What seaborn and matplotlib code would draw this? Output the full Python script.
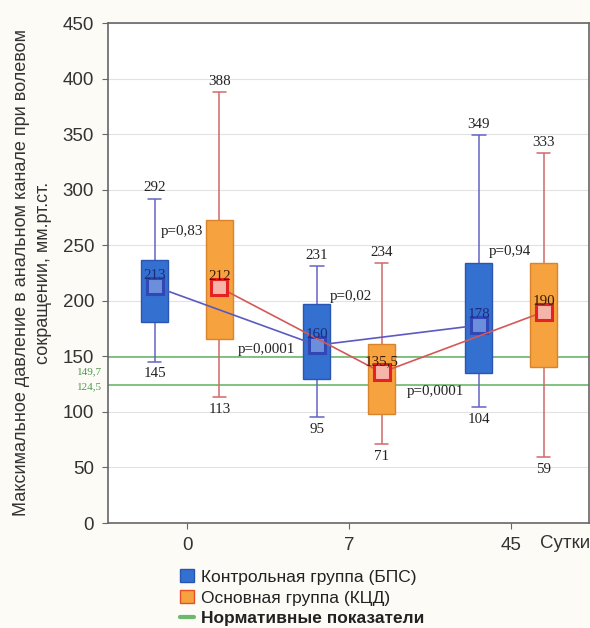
import numpy as np
import pandas as pd
import matplotlib
matplotlib.use("Agg")
import matplotlib.pyplot as plt
import matplotlib.transforms as mtransforms
from matplotlib.patches import Patch
from matplotlib.lines import Line2D
import seaborn as sns

# ---------------- data ----------------
days = ["0", "7", "45"]
groups = ["Контрольная группа (БПС)", "Основная группа (КЦД)"]
norm_name = "Нормативные показатели"

ctrl_min = [145, 95, 104]
ctrl_q1 = [181, 130, 135]
ctrl_med = [213, 160, 178]
ctrl_q3 = [237, 197, 234]
ctrl_max = [292, 231, 349]

main_min = [113, 71, 59]
main_q1 = [166, 98, 140]
main_med = [212, 135.5, 190]
main_q3 = [273, 161, 234]
main_max = [388, 234, 333]

norm_values = [149.7, 124.5]
norm_labels = ["149,7", "124,5"]

p_labels = ["p=0,83", "p=0,0001", "p=0,02", "p=0,0001", "p=0,94"]
y_label = "Максимальное давление в анальном канале при волевом\nсокращении, мм.рт.ст."
x_unit = "Сутки"

# ---------------- layout / style ----------------
p_pos = [(-0.16, 262), (0.315, 155.7), (0.883, 203.4), (1.358, 117.9), (1.864, 244.8)]
norm_label_y = [136.0, 123.0]

box_face = ["#3470cf", "#f6a23e"]
box_edge = ["#2a56b2", "#d9842c"]
whisk_col = ["#6464c4", "#cf6a6a"]
line_col = ["#5a5ac2", "#d45858"]
mk_edge = ["#3147b5", "#e42222"]
mk_face = ["#6c8fdc", "#f7b4a8"]
green = "#6cb86c"
offsets = [-0.2, 0.2]

sns.set_theme(style="white")
plt.rcParams["font.family"] = ["Liberation Sans", "DejaVu Sans"]
SERIF = ["Liberation Serif", "DejaVu Serif"]

fig = plt.figure(figsize=(5.9, 6.28), dpi=100, facecolor="#fcfbf6")
ax = fig.add_axes([108 / 590, 1 - 523 / 628, (589 - 108) / 590, 500 / 628])
ax.set_facecolor("white")

# long table for boxplot: min, q1, med, q3, max -> exact quartiles
rows = []
stats = {
    groups[0]: (ctrl_min, ctrl_q1, ctrl_med, ctrl_q3, ctrl_max),
    groups[1]: (main_min, main_q1, main_med, main_q3, main_max),
}
for g in groups:
    for i, d in enumerate(days):
        for arr in stats[g]:
            rows.append({"day": d, "group": g, "value": arr[i]})
df = pd.DataFrame(rows)

sns.boxplot(data=df, x="day", y="value", hue="group", order=days, hue_order=groups,
            whis=(0, 100), width=0.8, gap=0.58, palette=box_face, saturation=1,
            linewidth=1, showfliers=False, legend=False, ax=ax)

for k, cont in enumerate(ax.containers):
    for b in cont.boxes:
        b.set_facecolor(box_face[k])
        b.set_edgecolor(box_edge[k])
        b.set_linewidth(1.0)
        b.set_zorder(3)
    for ln in list(cont.whiskers) + list(cont.caps):
        ln.set_color(whisk_col[k])
        ln.set_linewidth(1.1)
    for ln in cont.medians:
        ln.set_visible(False)

# grid and normative lines
ax.yaxis.grid(True, color="#e2e2e2", lw=0.8, zorder=0)
ax.set_axisbelow(True)
for v in norm_values:
    ax.axhline(v, color=green, lw=1.2, zorder=1.5)

# median lines with square markers
meds = [ctrl_med, main_med]
for k in range(2):
    xs = np.arange(len(days)) + offsets[k]
    sns.lineplot(x=xs, y=meds[k], color=line_col[k], lw=1.2, marker="s",
                 markersize=11, markerfacecolor=mk_face[k], markeredgecolor=mk_edge[k],
                 markeredgewidth=2.2, zorder=6, ax=ax, legend=False)


def fmt(v):
    return str(int(v)) if float(v).is_integer() else str(v).replace(".", ",")


FS_ANN = 10.8
mins = [ctrl_min, main_min]
maxs = [ctrl_max, main_max]
for k in range(2):
    for i in range(len(days)):
        x = i + offsets[k]
        ax.annotate(fmt(maxs[k][i]), (x, maxs[k][i]), xytext=(0, 3), textcoords="offset points",
                    ha="center", va="bottom", fontsize=FS_ANN, family=SERIF, color="#222222", zorder=7)
        ax.annotate(fmt(mins[k][i]), (x, mins[k][i]), xytext=(0, -4), textcoords="offset points",
                    ha="center", va="top", fontsize=FS_ANN, family=SERIF, color="#222222", zorder=7)
        ax.annotate(fmt(meds[k][i]), (x, meds[k][i]), xytext=(0, 3), textcoords="offset points",
                    ha="center", va="bottom", fontsize=FS_ANN, family=SERIF,
                    color="#1e2c78" if k == 0 else "#3a1a0c", zorder=8)

for t, (x, y) in zip(p_labels, p_pos):
    ax.text(x, y, t, ha="left", va="center", fontsize=FS_ANN, family=SERIF, color="#222222", zorder=8)

# normative labels left of the axis
trans = mtransforms.blended_transform_factory(ax.transAxes, ax.transData)
for t, y in zip(norm_labels, norm_label_y):
    ax.text(-0.013, y, t, transform=trans, ha="right", va="center", fontsize=8,
            family=SERIF, color="#4f9a4f")

# axes
ax.set_ylim(0, 450)
ax.set_xlim(-0.488, 2.48)
ax.set_yticks(range(0, 451, 50))
ax.set_xticks(range(len(days)), days)
ax.set_xlabel("")
ax.set_ylabel(y_label, fontsize=13, color="#333333", linespacing=1.4)
ax.yaxis.label.set_va("center")
ax.yaxis.set_label_coords(-0.157, 0.5)
ax.tick_params(axis="both", labelsize=13.5, labelcolor="#333333", color="#666666",
               direction="out", length=4, width=0.8, left=True, bottom=True)
ax.tick_params(axis="x", pad=6)
ax.tick_params(axis="y", pad=6)
for s in ax.spines.values():
    s.set_color("#666666")
    s.set_linewidth(1.2)
ax.text(2.333, -20 / 500, x_unit,
        transform=mtransforms.blended_transform_factory(ax.transData, ax.transAxes),
        ha="center", va="center", fontsize=13.5, color="#333333")

# legend
handles = [Patch(facecolor=box_face[0], edgecolor=box_edge[0]),
           Patch(facecolor=box_face[1], edgecolor="#e4502a"),
           Line2D([0], [0], color=green, lw=3)]
leg = fig.legend(handles, groups + [norm_name], loc="upper left",
                 bbox_to_anchor=(180 / 590, 1 - 569 / 628), frameon=False, fontsize=12.5,
                 handlelength=0.8, handleheight=0.8, handletextpad=0.4, labelspacing=0.3,
                 borderaxespad=0, borderpad=0)
for t in leg.get_texts():
    t.set_color("#222222")
leg.get_texts()[2].set_fontweight("bold")

fig.savefig("out.png", dpi=100, facecolor=fig.get_facecolor())
